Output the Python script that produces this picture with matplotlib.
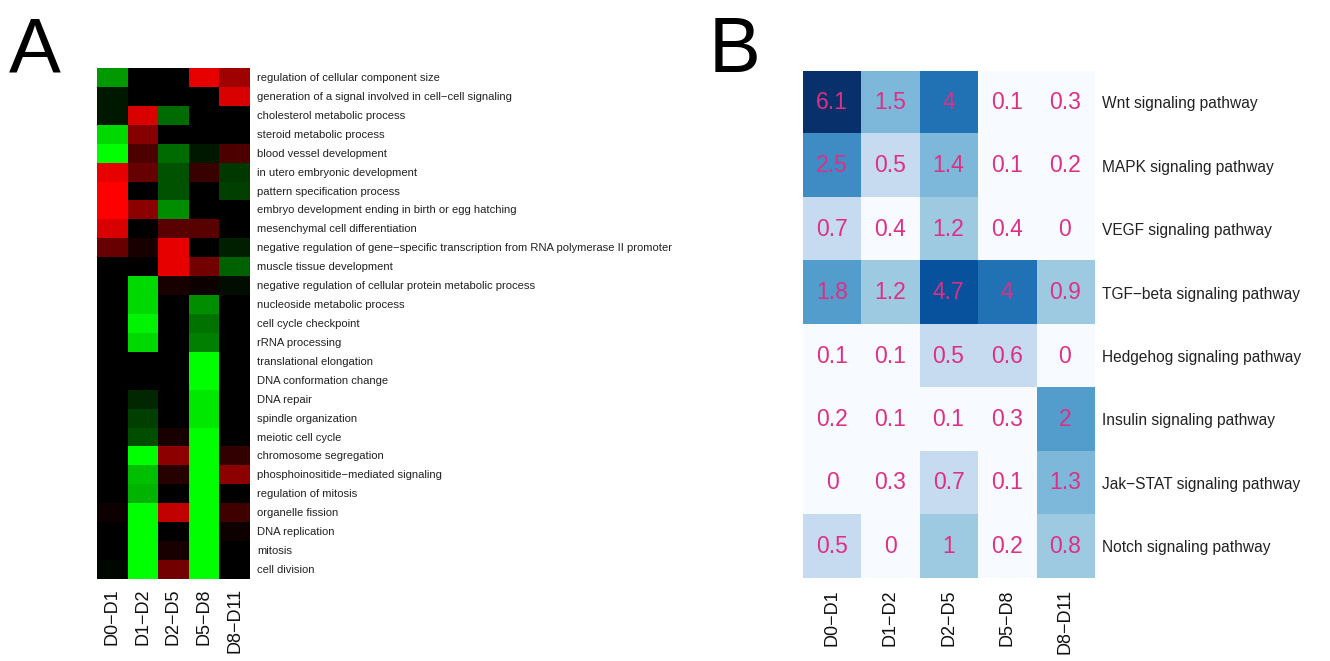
import numpy as np
import matplotlib
matplotlib.use("Agg")
import matplotlib.pyplot as plt
from matplotlib.colors import LinearSegmentedColormap, ListedColormap, BoundaryNorm

plt.rcParams['font.family'] = ['Liberation Sans', 'DejaVu Sans']

# ---------------------------------------------------------------------------
# Panel A : GO terms, relative change between time intervals
# ---------------------------------------------------------------------------
intervals = ["D0\u2212D1", "D1\u2212D2", "D2\u2212D5", "D5\u2212D8", "D8\u2212D11"]

go_terms = [
    "regulation of cellular component size",
    "generation of a signal involved in cell\u2212cell signaling",
    "cholesterol metabolic process",
    "steroid metabolic process",
    "blood vessel development",
    "in utero embryonic development",
    "pattern specification process",
    "embryo development ending in birth or egg hatching",
    "mesenchymal cell differentiation",
    "negative regulation of gene\u2212specific transcription from RNA polymerase II promoter",
    "muscle tissue development",
    "negative regulation of cellular protein metabolic process",
    "nucleoside metabolic process",
    "cell cycle checkpoint",
    "rRNA processing",
    "translational elongation",
    "DNA conformation change",
    "DNA repair",
    "spindle organization",
    "meiotic cell cycle",
    "chromosome segregation",
    "phosphoinositide\u2212mediated signaling",
    "regulation of mitosis",
    "organelle fission",
    "DNA replication",
    "mitosis",
    "cell division",
]

go_scores = [
    [-0.60, 0.00, 0.00, 0.90, 0.62],
    [-0.10, 0.00, 0.00, 0.00, 0.85],
    [-0.10, 0.85, -0.42, 0.00, 0.00],
    [-0.85, 0.52, 0.00, 0.00, 0.00],
    [-1.00, 0.30, -0.42, -0.10, 0.30],
    [0.90, 0.40, -0.32, 0.22, -0.22],
    [1.00, 0.00, -0.32, 0.00, -0.25],
    [1.00, 0.55, -0.55, 0.00, 0.00],
    [0.85, 0.00, 0.35, 0.35, 0.00],
    [0.40, 0.10, 0.90, 0.00, -0.12],
    [0.00, 0.00, 0.90, 0.45, -0.38],
    [0.00, -0.85, 0.10, 0.05, -0.05],
    [0.00, -0.85, 0.00, -0.55, 0.00],
    [0.00, -0.95, 0.00, -0.45, 0.00],
    [0.00, -0.85, 0.00, -0.50, 0.00],
    [0.00, 0.00, 0.00, -1.00, 0.00],
    [0.00, 0.00, 0.00, -1.00, 0.00],
    [0.00, -0.15, 0.00, -0.90, 0.00],
    [0.00, -0.25, 0.00, -0.90, 0.00],
    [0.00, -0.30, 0.10, -1.00, 0.00],
    [0.00, -1.00, 0.55, -1.00, 0.20],
    [0.00, -0.75, 0.15, -1.00, 0.55],
    [0.00, -0.70, 0.00, -1.00, 0.00],
    [0.05, -1.00, 0.75, -1.00, 0.25],
    [0.00, -1.00, 0.00, -1.00, 0.05],
    [0.00, -1.00, 0.10, -1.00, 0.00],
    [-0.03, -1.00, 0.45, -1.00, 0.00],
]

# ---------------------------------------------------------------------------
# Panel B : signaling pathways
# ---------------------------------------------------------------------------
pathways = [
    "Wnt signaling pathway",
    "MAPK signaling pathway",
    "VEGF signaling pathway",
    "TGF\u2212beta signaling pathway",
    "Hedgehog signaling pathway",
    "Insulin signaling pathway",
    "Jak\u2212STAT signaling pathway",
    "Notch signaling pathway",
]

pathway_scores = [
    [6.1, 1.5, 4.0, 0.1, 0.3],
    [2.5, 0.5, 1.4, 0.1, 0.2],
    [0.7, 0.4, 1.2, 0.4, 0.0],
    [1.8, 1.2, 4.7, 4.0, 0.9],
    [0.1, 0.1, 0.5, 0.6, 0.0],
    [0.2, 0.1, 0.1, 0.3, 2.0],
    [0.0, 0.3, 0.7, 0.1, 1.3],
    [0.5, 0.0, 1.0, 0.2, 0.8],
]

fig = plt.figure(figsize=(13.3, 6.61), dpi=100)

# --- A ---
green_black_red = LinearSegmentedColormap.from_list(
    "gbr", [(0, 1, 0), (0, 0, 0), (1, 0, 0)])
axA = fig.add_axes([0.0729, 0.1248, 0.1150, 0.7730])
axA.imshow(np.array(go_scores), cmap=green_black_red, vmin=-1, vmax=1,
           aspect='auto', interpolation='nearest')
axA.set_xticks(range(len(intervals)))
axA.set_xticklabels(intervals, rotation=90, fontsize=13, color='#111111')
axA.set_yticks(range(len(go_terms)))
axA.set_yticklabels(go_terms, fontsize=8.1, color='#222222')
axA.yaxis.tick_right()
axA.tick_params(axis='both', length=0)
axA.tick_params(axis='y', pad=5)
axA.tick_params(axis='x', pad=7)
for s in axA.spines.values():
    s.set_visible(False)

# --- B ---
blue_levels = ['#f7fbff', '#c6dbef', '#9ecae1', '#7db8db', '#529dcc',
               '#3f8cc4', '#2171b5', '#08519c', '#08306b']
blue_bounds = [0, 0.45, 0.75, 1.25, 1.6, 2.2, 3.0, 4.4, 5.5, 7.0]
axB = fig.add_axes([0.6038, 0.1256, 0.2188, 0.7675])
vals = np.array(pathway_scores)
axB.imshow(vals, cmap=ListedColormap(blue_levels),
           norm=BoundaryNorm(blue_bounds, len(blue_levels)),
           aspect='auto', interpolation='nearest')
for i in range(vals.shape[0]):
    for j in range(vals.shape[1]):
        axB.text(j, i, "%g" % vals[i, j], ha='center', va='center',
                 fontsize=16.5, color='#de2f86')
axB.set_xticks(range(len(intervals)))
axB.set_xticklabels(intervals, rotation=90, fontsize=13, color='#111111')
axB.set_yticks(range(len(pathways)))
axB.set_yticklabels(pathways, fontsize=11.2, color='#222222')
axB.yaxis.tick_right()
axB.tick_params(axis='both', length=0)
axB.tick_params(axis='y', pad=6)
axB.tick_params(axis='x', pad=8)
for s in axB.spines.values():
    s.set_visible(False)

# panel letters
fig.text(0.007, 1 - 72 / 661, "A", fontsize=56, va='baseline', ha='left')
fig.text(0.533, 1 - 72 / 661, "B", fontsize=56, va='baseline', ha='left')

fig.savefig("out.png", dpi=100)
